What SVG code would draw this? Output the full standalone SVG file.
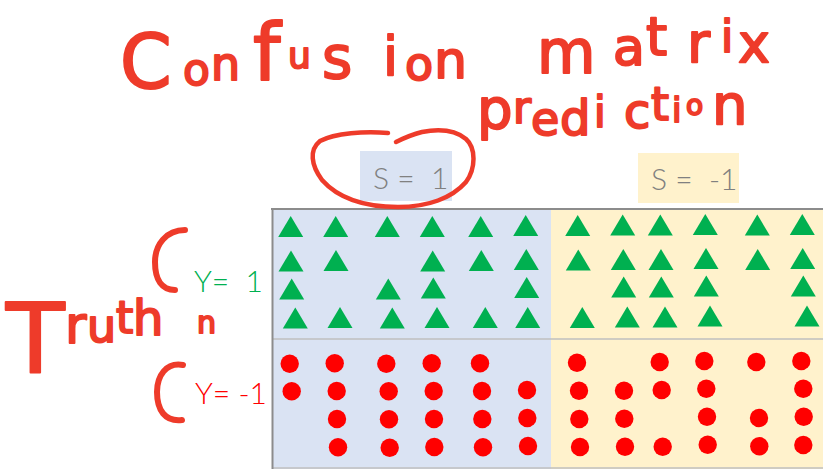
<svg xmlns="http://www.w3.org/2000/svg" xmlns:xlink="http://www.w3.org/1999/xlink" width="823" height="469" viewBox="0 0 823 469">
<style>
.hw{font-family:"DejaVu Sans",sans-serif;fill:#EE3B2A;stroke:#EE3B2A;stroke-width:2;stroke-linejoin:round}
.ink{fill:none;stroke:#EE3B2A;stroke-linecap:round;stroke-linejoin:round}
.lbl{font-family:"Lato","Liberation Sans",sans-serif;font-weight:300;font-size:30px}
.tri{fill:#00B050}
.dot{fill:#FF0000}
</style>
<defs>
<path id="t" d="M0,-10.5 L12.5,10.5 L-12.5,10.5Z"/>
<circle id="c" r="9.2"/>
</defs>
<rect width="823" height="469" fill="#FFFFFF"/>

<g id="matrix">
<rect x="272" y="209" width="279" height="260" fill="#DAE3F3"/>
<rect x="551" y="209" width="272" height="260" fill="#FFF2CC"/>
<line x1="272" y1="339" x2="823" y2="339" stroke="#BFBFBF" stroke-width="1.5"/>
<line x1="272" y1="468" x2="823" y2="468" stroke="#BFBFBF" stroke-width="1.5"/>
<line x1="271" y1="209" x2="823" y2="209" stroke="#8C8C8C" stroke-width="2"/>
<line x1="272.5" y1="208" x2="272.5" y2="469" stroke="#8C8C8C" stroke-width="2"/>
</g>

<g id="header-s1">
<rect x="360" y="151" width="92" height="50" fill="#DAE3F3"/>
<text class="lbl" x="373" y="188.5" fill="#808080" xml:space="preserve">S =  1</text>
</g>
<g id="header-s-1">
<rect x="638" y="153" width="101" height="50" fill="#FFF2CC"/>
<text class="lbl" x="651" y="189.5" fill="#808080" xml:space="preserve">S =  -1</text>
</g>
<g id="row-y1">
<text class="lbl" x="194" y="291.5" fill="#00B050" xml:space="preserve">Y=  1</text>
</g>
<g id="row-y-1">
<text class="lbl" x="195" y="403.5" fill="#FF0000" xml:space="preserve">Y= -1</text>
</g>

<g id="triangles-s1">
<use xlink:href="#t" class="tri" x="290.7" y="226.5"/><use xlink:href="#t" class="tri" x="335.7" y="226.5"/><use xlink:href="#t" class="tri" x="387.3" y="226.5"/><use xlink:href="#t" class="tri" x="432.3" y="226.5"/><use xlink:href="#t" class="tri" x="480.7" y="226.5"/><use xlink:href="#t" class="tri" x="525.7" y="225.5"/>
<use xlink:href="#t" class="tri" x="291" y="261"/><use xlink:href="#t" class="tri" x="336" y="260.5"/><use xlink:href="#t" class="tri" x="432.7" y="261"/><use xlink:href="#t" class="tri" x="481.3" y="260.5"/><use xlink:href="#t" class="tri" x="526.3" y="259.5"/>
<use xlink:href="#t" class="tri" x="291.7" y="289"/><use xlink:href="#t" class="tri" x="388.3" y="289"/><use xlink:href="#t" class="tri" x="433.3" y="288"/><use xlink:href="#t" class="tri" x="526.7" y="287.5"/>
<use xlink:href="#t" class="tri" x="295.3" y="318"/><use xlink:href="#t" class="tri" x="340" y="317.5"/><use xlink:href="#t" class="tri" x="392.3" y="318"/><use xlink:href="#t" class="tri" x="437" y="317.5"/><use xlink:href="#t" class="tri" x="485.3" y="317.5"/><use xlink:href="#t" class="tri" x="527.7" y="317.5"/>
</g>
<g id="triangles-s-1">
<use xlink:href="#t" class="tri" x="577.7" y="225.5"/><use xlink:href="#t" class="tri" x="622.7" y="225"/><use xlink:href="#t" class="tri" x="660.3" y="225"/><use xlink:href="#t" class="tri" x="705.3" y="224.5"/><use xlink:href="#t" class="tri" x="757.3" y="225"/><use xlink:href="#t" class="tri" x="802.3" y="224.5"/>
<use xlink:href="#t" class="tri" x="578.3" y="260"/><use xlink:href="#t" class="tri" x="623.3" y="259.5"/><use xlink:href="#t" class="tri" x="661" y="259.5"/><use xlink:href="#t" class="tri" x="706" y="258.5"/><use xlink:href="#t" class="tri" x="757.7" y="259.5"/><use xlink:href="#t" class="tri" x="802.7" y="258.5"/>
<use xlink:href="#t" class="tri" x="623.7" y="287"/><use xlink:href="#t" class="tri" x="661.3" y="287"/><use xlink:href="#t" class="tri" x="706.3" y="286"/><use xlink:href="#t" class="tri" x="803.3" y="286"/>
<use xlink:href="#t" class="tri" x="582.3" y="317.5"/><use xlink:href="#t" class="tri" x="627.3" y="317"/><use xlink:href="#t" class="tri" x="665" y="317"/><use xlink:href="#t" class="tri" x="710" y="316"/><use xlink:href="#t" class="tri" x="807" y="316"/>
</g>
<g id="circles-s1">
<use xlink:href="#c" class="dot" x="289.7" y="363.7"/><use xlink:href="#c" class="dot" x="334.7" y="363.3"/><use xlink:href="#c" class="dot" x="386.3" y="363.7"/><use xlink:href="#c" class="dot" x="431.7" y="363.3"/><use xlink:href="#c" class="dot" x="480" y="363.3"/>
<use xlink:href="#c" class="dot" x="291.7" y="391.3"/><use xlink:href="#c" class="dot" x="336.7" y="391"/><use xlink:href="#c" class="dot" x="388.7" y="391.3"/><use xlink:href="#c" class="dot" x="433.7" y="391"/><use xlink:href="#c" class="dot" x="482" y="391"/><use xlink:href="#c" class="dot" x="527" y="390"/>
<use xlink:href="#c" class="dot" x="337" y="419"/><use xlink:href="#c" class="dot" x="389" y="419.3"/><use xlink:href="#c" class="dot" x="434" y="419"/><use xlink:href="#c" class="dot" x="482.3" y="419"/><use xlink:href="#c" class="dot" x="527.3" y="418"/>
<use xlink:href="#c" class="dot" x="338" y="447.3"/><use xlink:href="#c" class="dot" x="389.7" y="447.7"/><use xlink:href="#c" class="dot" x="434.3" y="447"/><use xlink:href="#c" class="dot" x="483" y="447.3"/><use xlink:href="#c" class="dot" x="528" y="446"/>
</g>
<g id="circles-s-1">
<use xlink:href="#c" class="dot" x="577" y="362.7"/><use xlink:href="#c" class="dot" x="659.7" y="362"/><use xlink:href="#c" class="dot" x="704.3" y="361"/><use xlink:href="#c" class="dot" x="756.3" y="362"/><use xlink:href="#c" class="dot" x="801.3" y="361"/>
<use xlink:href="#c" class="dot" x="579" y="390.7"/><use xlink:href="#c" class="dot" x="624" y="390.7"/><use xlink:href="#c" class="dot" x="661.7" y="390"/><use xlink:href="#c" class="dot" x="706.3" y="388.7"/><use xlink:href="#c" class="dot" x="803.3" y="388.7"/>
<use xlink:href="#c" class="dot" x="579.3" y="419"/><use xlink:href="#c" class="dot" x="624.3" y="418.7"/><use xlink:href="#c" class="dot" x="707" y="416.7"/><use xlink:href="#c" class="dot" x="759" y="418"/><use xlink:href="#c" class="dot" x="803.7" y="416.7"/>
<use xlink:href="#c" class="dot" x="580" y="447"/><use xlink:href="#c" class="dot" x="625" y="446.7"/><use xlink:href="#c" class="dot" x="662.7" y="446.7"/><use xlink:href="#c" class="dot" x="707.7" y="444.7"/><use xlink:href="#c" class="dot" x="759.3" y="446.3"/><use xlink:href="#c" class="dot" x="803.3" y="445"/>
</g>

<g id="annotations">
<text class="hw"><tspan x="120" y="88" font-size="74">C</tspan><tspan x="183" y="85" font-size="44">o</tspan><tspan x="211" y="80" font-size="46">n</tspan><tspan x="253" y="80" font-size="78">f</tspan><tspan x="288" y="68" font-size="36">u</tspan><tspan x="322" y="78" font-size="58">s</tspan><tspan x="383" y="75" font-size="54">i</tspan><tspan x="405" y="80" font-size="46">o</tspan><tspan x="434" y="78" font-size="52">n</tspan></text>
<text class="hw"><tspan x="537" y="73" font-size="60">m</tspan><tspan x="613" y="65" font-size="52">a</tspan><tspan x="646" y="55" font-size="54">t</tspan><tspan x="687" y="62" font-size="56">r</tspan><tspan x="721" y="52" font-size="44">i</tspan><tspan x="738" y="62" font-size="54">x</tspan></text>
<text class="hw"><tspan x="477" y="128" font-size="56">p</tspan><tspan x="513" y="123" font-size="44">r</tspan><tspan x="531" y="135" font-size="46">e</tspan><tspan x="560" y="135" font-size="48">d</tspan><tspan x="594" y="127" font-size="42">i</tspan><tspan x="624" y="128" font-size="48">c</tspan><tspan x="651" y="120" font-size="46">t</tspan><tspan x="672" y="122" font-size="34">i</tspan><tspan x="686" y="115" font-size="28">o</tspan><tspan x="712" y="124" font-size="56">n</tspan></text>
<text class="hw"><tspan x="6" y="372" font-size="96">T</tspan><tspan x="65" y="343" font-size="52">r</tspan><tspan x="87" y="342" font-size="46">u</tspan><tspan x="116" y="333" font-size="44">t</tspan><tspan x="133" y="335" font-size="48">h</tspan></text>
<text class="hw" x="197" y="333" font-size="30">n</text>
<path class="ink" stroke-width="4.5" d="M388,133 C365,131 335,133 320,141 C309,150 311,165 322,180 C338,198 365,207 398,207 C428,207 452,198 466,182 C476,168 476,148 466,139 C455,130 438,129 422,132 C410,135 402,139 396,142"/>
<path class="ink" stroke-width="6" d="M185,230 C166,230 155,245 155,262 C155,280 162,290 175,290"/>
<path class="ink" stroke-width="6" d="M183,365 C166,362 157,376 157,392 C157,410 165,422 182,420"/>
</g>
</svg>
